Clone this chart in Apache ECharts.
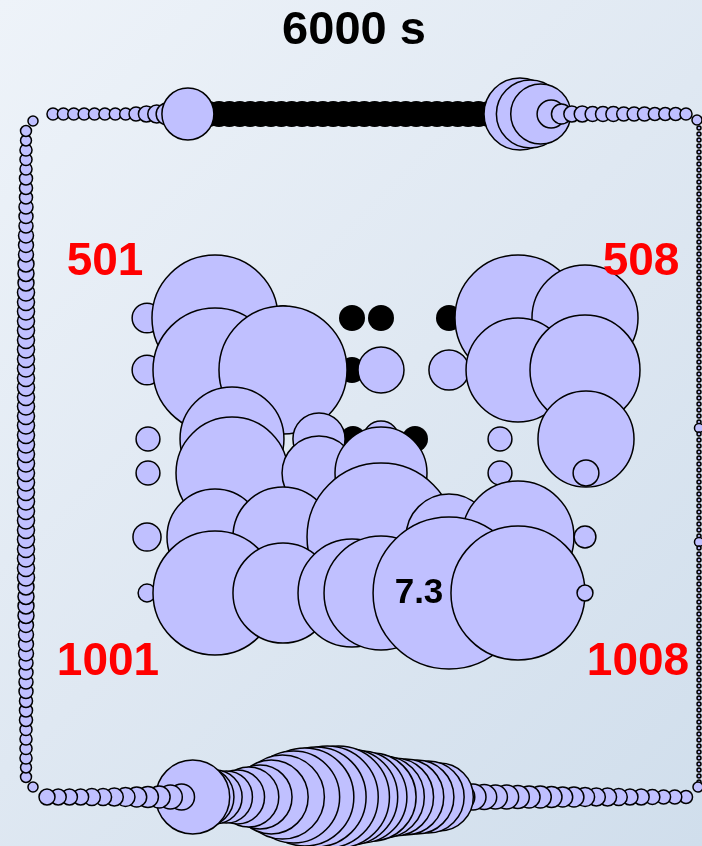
<!DOCTYPE html>
<html>
<head>
<meta charset="utf-8">
<script src="https://cdn.jsdelivr.net/npm/echarts@6/dist/echarts.min.js"></script>
<style>
html, body { margin: 0; padding: 0; }
body { background: linear-gradient(135deg, #eef3f9 0%, #dfe8f2 50%, #d0deec 100%); }
#chart { width: 702px; height: 846px; }
</style>
</head>
<body>
<div id="chart"></div>
<script>
// bubble radius ~ sqrt(value); 0 = dry node (black dot), '-' = node not visible
const title = '6000 s';
const cornerNames = ['501', '508', '1001', '1008'];

// inner node field, 6 rows x 8 columns (501..508 down to 1001..1008)
const colX = [147, 215, 283, 352, 381, 449, 518, 585];
const colXMid = [148, 232, 319, 353, 381, 415, 500, 586];
const rowY = [318, 370, 439, 473, 537, 593];
const rowUsesMid = [false, false, true, true, false, false];
const gridValues = [
  [0.28, 5.03, 0, 0, 0, 0, 5.03, 3.56],
  [0.28, 4.87, 5.19, 0, 0.67, 0.51, 3.42, 3.83],
  [0.18, 3.42, 0.86, 0, 0.41, 0, 0.18, 2.92],
  [0.18, 3.97, 1.73, '-', 2.68, '-', 0.18, 0.21],
  [0.25, 2.92, 3.17, '-', 6.93, 2.34, 3.97, 0.15],
  [0.10, 4.87, 3.17, 3.69, 4.11, 7.3, 5.69, 0.08]
];

// outer loop channel
const cornerValue = 0.032;
const topValues = [
  0.046, 0.046, 0.046, 0.046, 0.046, 0.046, 0.046, 0.046, 0.062, 0.081,
  0.103, 0.153, 0.214, 0.856,
  0, 0, 0, 0, 0, 0, 0, 0, 0, 0, 0, 0, 0, 0, 0,
  0, 0, 0, 0, 0, 0, 0, 0, 0, 0, 0, 0, 0, 0, 0, 0,
  1.64, 1.46, 1.14, 0.248, 0.127, 0.081, 0.081, 0.071, 0.071, 0.071,
  0.062, 0.062, 0.062, 0.054, 0.054, 0.054, 0.046
];
const rightValues = [
  0.005, 0.005, 0.005, 0.005, 0.005, 0.005, 0.005, 0.005, 0.005, 0.005,
  0.005, 0.005, 0.005, 0.005, 0.005, 0.005, 0.005, 0.005, 0.005, 0.005,
  0.005, 0.005, 0.005, 0.005, 0.005, 0.005, 0.005, 0.005, 0.005, 0.005,
  0.005, 0.005, 0.005, 0.005, 0.005, 0.005, 0.005, 0.005, 0.005, 0.005,
  0.005, 0.005, 0.005, 0.005, 0.005, 0.005, 0.005, 0.005, 0.005, 0.005,
  0.026, 0.005, 0.005, 0.005, 0.005, 0.005, 0.005, 0.005, 0.005, 0.005,
  0.005, 0.005, 0.005, 0.005, 0.005, 0.005, 0.005, 0.005, 0.005, 0.026,
  0.005, 0.005, 0.005, 0.005, 0.005, 0.005, 0.005, 0.005, 0.005, 0.005,
  0.005, 0.005, 0.005, 0.005, 0.005, 0.005, 0.005, 0.005, 0.005, 0.005,
  0.005, 0.005, 0.005, 0.005, 0.005, 0.005, 0.005, 0.005, 0.005, 0.005,
  0.005, 0.005, 0.005, 0.005, 0.005, 0.005, 0.005, 0.005, 0.005, 0.005
];
const bottomValues = [
  0.081, 0.081, 0.081, 0.081, 0.092, 0.092, 0.103, 0.114, 0.127, 0.140,
  0.153, 0.182, 0.214, 1.73, 1.14, 0.92, 0.86, 0.92, 1.14, 1.30,
  1.73, 2.23, 2.68, 3.04, 3.17, 3.29, 3.29, 2.92, 2.68, 2.45,
  2.13, 1.93, 1.83, 1.73, 1.64, 1.46, 0.214, 0.214, 0.214, 0.198,
  0.182, 0.182, 0.167, 0.153, 0.153, 0.140, 0.127, 0.127, 0.114, 0.103,
  0.103, 0.092, 0.081, 0.081, 0.071, 0.062, 0.062, 0.054
];
const leftValues = [
  0.038, 0.038, 0.046, 0.046, 0.046, 0.054, 0.054, 0.054, 0.062, 0.062,
  0.062, 0.071, 0.071, 0.071, 0.081, 0.081, 0.081, 0.092, 0.092, 0.092,
  0.092, 0.092, 0.092, 0.092, 0.092, 0.092, 0.092, 0.092, 0.092, 0.092,
  0.092, 0.092, 0.092, 0.092, 0.092, 0.092, 0.092, 0.092, 0.092, 0.092,
  0.092, 0.092, 0.092, 0.092, 0.092, 0.092, 0.092, 0.092, 0.081, 0.081,
  0.081, 0.081, 0.071, 0.071, 0.071, 0.071, 0.062, 0.062, 0.062, 0.062,
  0.054, 0.054, 0.054, 0.046, 0.046, 0.046, 0.046, 0.038, 0.038
];

const chart = echarts.init(document.getElementById('chart'));

function segment(x0, y0, x1, y1, vals) {
  const n = vals.length;
  return vals.map((v, i) => [x0 + (x1 - x0) * i / (n - 1), y0 + (y1 - y0) * i / (n - 1), v]);
}

// loop drawn clockwise from the top-left corner
const loopPts = [].concat(
  [[33, 121, cornerValue]],
  segment(53, 114, 686, 114, topValues),
  [[697, 120, cornerValue]],
  segment(699, 128, 699, 782, rightValues),
  [[698, 787, cornerValue]],
  segment(47, 797, 686, 797, bottomValues).reverse(),
  [[33, 787, cornerValue]],
  segment(26, 131, 26, 777, leftValues).reverse()
);

const gridPts = [];
gridValues.forEach((row, r) => {
  const xs = rowUsesMid[r] ? colXMid : colX;
  row.forEach((v, c) => {
    if (v !== '-') gridPts.push([xs[c], rowY[r], v]);
  });
});

const maxVal = Math.max(...gridPts.map(p => p[2]));
const dryPts = loopPts.concat(gridPts).filter(p => p[2] === 0);
const wetLoop = loopPts.filter(p => p[2] > 0);
const wetGrid = gridPts.filter(p => p[2] > 0).map(p => p[2] === maxVal ? {
  value: p,
  label: {
    show: true, position: 'inside', offset: [-30, 0],
    formatter: d => d.value[2], fontSize: 35, fontWeight: 'bold',
    color: '#000', fontFamily: 'Liberation Sans'
  }
} : p);

const sizeOf = v => 2 * 28.1 * Math.sqrt(v[2]);
const bubbleStyle = { color: '#c0c0ff', borderColor: '#000', borderWidth: 1.5, opacity: 1 };

const labelPos = [[105, 262], [641, 262], [108, 662], [638, 662]];

chart.setOption({
  animation: false,
  grid: { left: 0, right: 0, top: 0, bottom: 0 },
  xAxis: { type: 'value', min: 0, max: 702, show: false },
  yAxis: { type: 'value', min: 0, max: 846, inverse: true, show: false },
  graphic: [{
    type: 'text', x: 354, y: 31,
    style: { text: title, fill: '#000', font: 'bold 47px "Liberation Sans", Arial', textAlign: 'center', textVerticalAlign: 'middle' }
  }].concat(cornerNames.map((t, i) => ({
    type: 'text', x: labelPos[i][0], y: labelPos[i][1], z: 100,
    style: { text: t, fill: '#ff0000', font: 'bold 46px "Liberation Sans", Arial', textAlign: 'center', textVerticalAlign: 'middle' }
  }))),
  series: [
    { type: 'scatter', data: dryPts, symbolSize: 26, itemStyle: { color: '#000', opacity: 1 }, z: 1, silent: true },
    { type: 'scatter', data: wetLoop, symbolSize: sizeOf, itemStyle: bubbleStyle, z: 2, silent: true },
    { type: 'scatter', data: wetGrid, symbolSize: sizeOf, itemStyle: bubbleStyle, z: 3, silent: true }
  ]
});
</script>
</body>
</html>
